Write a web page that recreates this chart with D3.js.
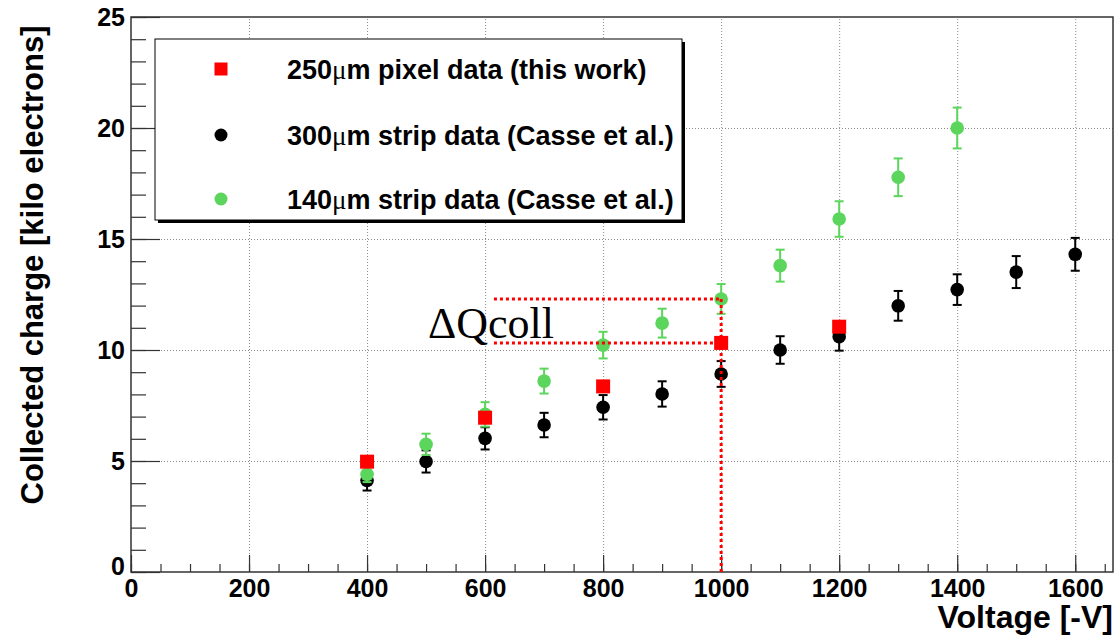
<!DOCTYPE html>
<meta charset="utf-8">
<head>
  <title>Collected charge vs voltage</title>
</head>
<style>
  html, body {
    margin: 0;
    background: #fff;
    overflow: hidden;
  }
  svg text {
    font-family: "Liberation Sans", Arial, Helvetica, sans-serif;
    font-weight: bold;
  }
  .grid line {
    stroke: #8a8a8a;
    stroke-width: 1;
    stroke-dasharray: 1,2;
  }
  .grid path, .ticks path {
    display: none;
  }
  .ticks line {
    stroke: #333;
    stroke-width: 1.2;
  }
</style>
<body>
<script src="https://d3js.org/d3.v7.min.js" charset="utf-8"></script>
<script>
// 250um pixel data (this work)
var pixelVoltage = [400, 600, 800, 1000, 1200];
var pixelCharge  = [4.97, 6.95, 8.36, 10.32, 11.05];

// 300um strip data (Casse et al.)
var strip300Voltage = [400, 500, 600, 700, 800, 900, 1000, 1100, 1200, 1300, 1400, 1500, 1600];
var strip300Charge  = [4.12, 4.98, 6.02, 6.62, 7.42, 8.02, 8.92, 10.0, 10.6, 11.99, 12.72, 13.51, 14.31];
var strip300Error   = [0.45, 0.5, 0.5, 0.55, 0.55, 0.57, 0.58, 0.62, 0.63, 0.67, 0.69, 0.72, 0.74];

// 140um strip data (Casse et al.)
var strip140Voltage = [400, 500, 600, 700, 800, 900, 1000, 1100, 1200, 1300, 1400];
var strip140Charge  = [4.4, 5.75, 7.1, 8.6, 10.22, 11.21, 12.3, 13.8, 15.9, 17.78, 20.0];
var strip140Error   = [0.35, 0.48, 0.55, 0.56, 0.6, 0.65, 0.67, 0.72, 0.8, 0.85, 0.92];

var legendLabels = [
  {pre: '250', post: 'm pixel data (this work)'},
  {pre: '300', post: 'm strip data (Casse et al.)'},
  {pre: '140', post: 'm strip data (Casse et al.)'}
];

// dQ_coll markers: from the 1000 V pixel point to the 1000 V 140um point
var deltaStartVoltage = 615;
var deltaVoltage = 1000;
var deltaLow = 10.32;
var deltaHigh = 12.3;

var xTicks = d3.range(0, 1601, 200);
var xMinor = d3.range(0, 1664, 50);
var yTicks = d3.range(0, 26, 5);
var yMinor = d3.range(0, 26, 1);

var W = 1115, H = 637;
var padL = 131, padR = 1113, padT = 17, padB = 572;

var svg = d3.select('body').append('svg')
  .attr('width', W).attr('height', H);

var x = d3.scaleLinear().domain([0, 1664]).range([padL, padR]);
var y = d3.scaleLinear().domain([0, 25]).range([padB, padT]);

// grid
svg.append('g').attr('class', 'grid')
  .attr('transform', 'translate(0,' + padB + ')')
  .call(d3.axisBottom(x).tickValues(xTicks.slice(1)).tickSize(-(padB - padT)).tickFormat(''));
svg.append('g').attr('class', 'grid')
  .attr('transform', 'translate(' + padL + ',0)')
  .call(d3.axisLeft(y).tickValues(yTicks.slice(1, -1)).tickSize(-(padR - padL)).tickFormat(''));

// ticks
svg.append('g').attr('class', 'ticks')
  .attr('transform', 'translate(0,' + padB + ')')
  .call(d3.axisBottom(x).tickValues(xMinor).tickSize(-8).tickFormat(''));
var xAxis = svg.append('g').attr('class', 'ticks')
  .attr('transform', 'translate(0,' + padB + ')')
  .call(d3.axisBottom(x).tickValues(xTicks).tickSize(-17).tickPadding(7).tickFormat(d3.format('d')));
svg.append('g').attr('class', 'ticks')
  .attr('transform', 'translate(' + padL + ',0)')
  .call(d3.axisLeft(y).tickValues(yMinor).tickSize(-15).tickFormat(''));
var yAxis = svg.append('g').attr('class', 'ticks')
  .attr('transform', 'translate(' + padL + ',0)')
  .call(d3.axisLeft(y).tickValues(yTicks).tickSize(-29).tickPadding(6).tickFormat(d3.format('d')));

svg.selectAll('.ticks text')
  .attr('fill', '#000')
  .style('font-size', '25px')
  .style('font-family', '"Liberation Sans", Arial, sans-serif')
  .style('font-weight', 'bold');
yAxis.selectAll('text').filter(function(d) { return d === 0; }).attr('dy', '0.1em');

// frame
svg.append('rect')
  .attr('x', padL).attr('y', padT)
  .attr('width', padR - padL).attr('height', padB - padT)
  .attr('fill', 'none').attr('stroke', '#333').attr('stroke-width', 1.5);

// axis titles
svg.append('text')
  .attr('x', padR).attr('y', 628)
  .attr('text-anchor', 'end')
  .style('font-size', '32px')
  .text('Voltage [-V]');
svg.append('text')
  .attr('transform', 'translate(43,265) rotate(-90)')
  .attr('text-anchor', 'middle')
  .style('font-size', '31px')
  .text('Collected charge [kilo electrons]');

// series
function errorBars(g, xs, ys, es, color) {
  var d = xs.map(function(v, i) { return {x: v, y: ys[i], e: es[i]}; });
  var eb = g.selectAll('g.eb').data(d).enter().append('g').attr('class', 'eb')
    .attr('stroke', color).attr('stroke-width', 2);
  eb.append('line')
    .attr('x1', function(p) { return x(p.x); }).attr('x2', function(p) { return x(p.x); })
    .attr('y1', function(p) { return y(p.y + p.e); }).attr('y2', function(p) { return y(p.y - p.e); });
  eb.append('line')
    .attr('x1', function(p) { return x(p.x) - 4.5; }).attr('x2', function(p) { return x(p.x) + 4.5; })
    .attr('y1', function(p) { return y(p.y + p.e); }).attr('y2', function(p) { return y(p.y + p.e); });
  eb.append('line')
    .attr('x1', function(p) { return x(p.x) - 4.5; }).attr('x2', function(p) { return x(p.x) + 4.5; })
    .attr('y1', function(p) { return y(p.y - p.e); }).attr('y2', function(p) { return y(p.y - p.e); });
  g.selectAll('circle').data(d).enter().append('circle')
    .attr('cx', function(p) { return x(p.x); })
    .attr('cy', function(p) { return y(p.y); })
    .attr('r', 6.8)
    .attr('fill', color);
}

var black = '#000', green = '#5bd55b', red = '#ff0000';

errorBars(svg.append('g'), strip300Voltage, strip300Charge, strip300Error, black);
errorBars(svg.append('g'), strip140Voltage, strip140Charge, strip140Error, green);

svg.append('g').selectAll('rect')
  .data(pixelVoltage.map(function(v, i) { return {x: v, y: pixelCharge[i]}; }))
  .enter().append('rect')
  .attr('x', function(p) { return x(p.x) - 7; })
  .attr('y', function(p) { return y(p.y) - 7; })
  .attr('width', 14).attr('height', 14)
  .attr('fill', red);

// delta Q lines
var dq = svg.append('g')
  .attr('stroke', red).attr('stroke-width', 3).attr('stroke-dasharray', '3,3').attr('fill', 'none');
dq.append('line')
  .attr('x1', x(deltaStartVoltage)).attr('x2', x(deltaVoltage))
  .attr('y1', y(deltaHigh)).attr('y2', y(deltaHigh));
dq.append('line')
  .attr('x1', x(deltaStartVoltage)).attr('x2', x(deltaVoltage))
  .attr('y1', y(deltaLow)).attr('y2', y(deltaLow));
dq.append('line')
  .attr('x1', x(deltaVoltage)).attr('x2', x(deltaVoltage))
  .attr('y1', y(deltaHigh)).attr('y2', y(0));

svg.append('text')
  .attr('x', 428).attr('y', 338)
  .style('font-family', '"Liberation Serif", "Times New Roman", serif')
  .style('font-weight', 'normal')
  .style('font-size', '44px')
  .text('\u0394Qcoll');

// legend
var lg = svg.append('g');
lg.append('rect')
  .attr('x', 158).attr('y', 42).attr('width', 527).attr('height', 181)
  .attr('fill', '#000');
lg.append('rect')
  .attr('x', 155).attr('y', 39).attr('width', 527).attr('height', 181)
  .attr('fill', '#fff').attr('stroke', '#000').attr('stroke-width', 1);

var rowY = [69, 135, 199];
lg.append('rect').attr('x', 221 - 6.5).attr('y', rowY[0] - 6.5).attr('width', 13).attr('height', 13).attr('fill', red);
lg.append('circle').attr('cx', 221).attr('cy', rowY[1]).attr('r', 6.5).attr('fill', black);
lg.append('circle').attr('cx', 221).attr('cy', rowY[2]).attr('r', 6.5).attr('fill', green);

legendLabels.forEach(function(l, i) {
  var t = lg.append('text')
    .attr('x', 287).attr('y', rowY[i] + 10)
    .style('font-size', '27px');
  t.append('tspan').text(l.pre);
  t.append('tspan')
    .style('font-family', '"Liberation Serif", "Times New Roman", serif')
    .style('font-weight', 'normal')
    .text('\u03bc');
  t.append('tspan').text(l.post);
});
</script>
</body>
